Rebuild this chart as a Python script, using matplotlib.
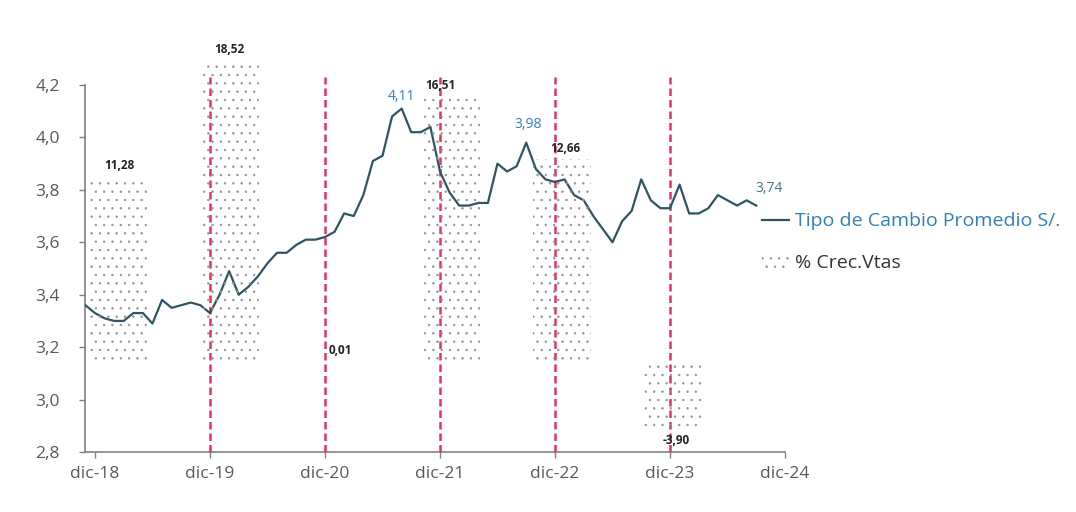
import numpy as np
import matplotlib
matplotlib.use("Agg")
from matplotlib import pyplot as plt
from matplotlib.lines import Line2D
from matplotlib.patches import Patch

plt.rcParams['font.family'] = ['Open Sans', 'DejaVu Sans']
plt.rcParams['hatch.linewidth'] = 0.5

# monthly average exchange rate, nov-18 .. sep-24 (month index, dic-18 = 0)
tc_start = -1
tipo_cambio = [3.36, 3.33, 3.31, 3.30, 3.30, 3.33, 3.33, 3.29, 3.38, 3.35,
               3.36, 3.37, 3.36, 3.33, 3.40, 3.49, 3.40, 3.43, 3.47, 3.52,
               3.56, 3.56, 3.59, 3.61, 3.61, 3.62, 3.64, 3.71, 3.70, 3.78,
               3.91, 3.93, 4.08, 4.11, 4.02, 4.02, 4.04, 3.87, 3.79, 3.74,
               3.74, 3.75, 3.75, 3.90, 3.87, 3.89, 3.98, 3.88, 3.84, 3.83,
               3.84, 3.78, 3.76, 3.70, 3.65, 3.60, 3.68, 3.72, 3.84, 3.76,
               3.73, 3.73, 3.82, 3.71, 3.71, 3.73, 3.78, 3.76, 3.74, 3.76,
               3.74]

# yearly sales growth (%)
anios = ["2019", "2020", "2021", "2022", "2023", "2024"]
crec_vtas = [11.28, 18.52, 0.01, 16.51, 12.66, -3.90]

tick_labels = ["dic-18", "dic-19", "dic-20", "dic-21", "dic-22", "dic-23", "dic-24"]
cortes = [12, 24, 36, 48, 60]   # red dashed markers at each december

line_col = '#2F5464'
blue = '#2E7FC0'
red = '#E5335E'
gray = '#808080'
txt = '#595959'

fig = plt.figure(figsize=(10.76, 5.12), dpi=100)
ax = fig.add_axes([85/1076, 1-452/512, 700/1076, 367/512])

x = np.arange(len(tipo_cambio)) + tc_start
ax.plot(x, tipo_cambio, color=line_col, lw=1.6, zorder=5)
ax.set_xlim(-1.04, 72)
ax.set_ylim(2.8, 4.2)
ax.set_yticks(np.arange(2.8, 4.21, 0.2))
ax.set_yticklabels([f"{v:.1f}".replace('.', ',') for v in np.arange(2.8, 4.21, 0.2)])
ax.set_xticks(np.arange(0, 73, 12))
ax.set_xticklabels(tick_labels)
ax.tick_params(colors=gray, labelcolor=txt, labelsize=12.5, length=4, width=1)
ax.tick_params(axis='x', pad=6)
ax.tick_params(axis='y', pad=14)
for s in ['top', 'right']:
    ax.spines[s].set_visible(False)
for s in ['left', 'bottom']:
    ax.spines[s].set_color(gray)
    ax.spines[s].set_linewidth(1.2)

# december markers
ax.vlines(cortes, 2.8, 4.23, colors=red, linestyles=(0, (3, 1.6)), lw=1.8,
          clip_on=False, zorder=4)

# value labels on the line
tc = np.array(tipo_cambio)
i_max = int(np.argmax(tc))
i_2 = 46
for i, dxy in [(i_max, (0, 3)), (i_2, (1, 8)), (len(tc) - 1, (9, 7))]:
    ax.annotate(f"{tc[i]:.2f}".replace('.', ','), (x[i], tc[i]), textcoords='offset points',
                xytext=dxy, ha='center', va='bottom', color=blue if i != len(tc) - 1 else '#4A6F8A',
                fontsize=10)

# bars on secondary axes (category axis for the years)
ax2 = ax.twinx()
ax2.set_ylim(-5.43, 17.22)
ax2.axis('off')
ax3 = ax2.twiny()
ax3.set_xlim(-0.307, 6.01)
ax3.axis('off')
pos = np.arange(len(anios))
ax3.bar(pos, crec_vtas, width=0.52, facecolor='none', edgecolor='#939393', lw=0,
        hatch='..', clip_on=False, zorder=1)
lab_off = [(0, 7), (0, 6), (0, 5), (-8, 3), (2, 3), (2, -5)]
for p, v, off in zip(pos, crec_vtas, lab_off):
    ax3.annotate(f"{v:.2f}".replace('.', ','), (p, v), textcoords='offset points',
                 xytext=off, ha='center', va='bottom' if v >= 0 else 'top',
                 fontsize=8.5, fontweight='bold', color='#222222',
                 annotation_clip=False)

# legend
handles = [Line2D([], [], color=line_col, lw=1.6),
           Patch(facecolor='none', edgecolor='#939393', lw=0, hatch='..')]
leg = fig.legend(handles, ["Tipo de Cambio Promedio S/.", "% Crec.Vtas"],
                 loc='upper left', bbox_to_anchor=(744/1076, 1-195/512),
                 frameon=False, fontsize=14, labelspacing=1.2,
                 handlelength=1.4, handletextpad=0.3)
leg.get_texts()[0].set_color(blue)
leg.get_texts()[1].set_color('#333333')

fig.savefig("out.png", dpi=100)
